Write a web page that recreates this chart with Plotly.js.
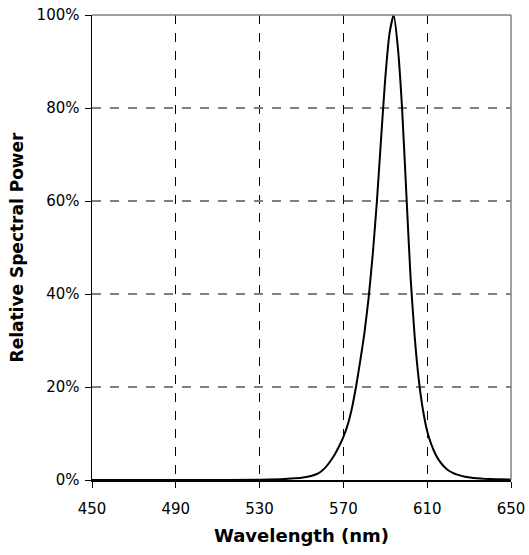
<!DOCTYPE html>
<html>
<head>
<meta charset="utf-8">
<script src="https://cdn.plot.ly/plotly-3.0.1.min.js"></script>
<style>html,body{margin:0;padding:0;background:#fff;}#chart{width:529px;height:555px;}</style>
</head>
<body>
<div id="chart"></div>
<script>
const wavelength = [450, 500, 530, 540, 545, 550, 555, 558, 561, 564, 566, 568, 570, 572, 574, 576, 578, 580, 582, 584, 586, 588, 590, 592, 594, 596, 598, 600, 602, 604, 606, 608, 610, 612, 614, 616, 618, 620, 622, 624, 628, 632, 640, 650];
const power = [0, 0, 0.05, 0.15, 0.3, 0.5, 0.9, 1.4, 2.5, 4.2, 5.6, 7.3, 9.3, 11.8, 15.3, 20, 25.5, 31.5, 39, 48.5, 60, 73.5, 86.5, 96, 100, 93, 80, 62, 44, 31, 21.5, 15, 10.5, 7.6, 5.5, 4.0, 2.9, 2.1, 1.6, 1.2, 0.7, 0.45, 0.2, 0.1];
const xTicks = [450, 490, 530, 570, 610, 650];
const yTicks = [0, 20, 40, 60, 80, 100];

const font = "'DejaVu Sans', Verdana, sans-serif";

Plotly.newPlot('chart', [{
  x: wavelength, y: power, type: 'scatter', mode: 'lines',
  line: {color: '#000', width: 2, shape: 'spline', smoothing: 0.5},
  hoverinfo: 'skip'
}], {
  width: 529, height: 555,
  margin: {l: 92, r: 18, t: 15, b: 75},
  paper_bgcolor: '#fff', plot_bgcolor: '#fff',
  showlegend: false,
  font: {family: font, size: 15, color: '#000'},
  xaxis: {
    range: [450, 650], tickvals: xTicks, ticktext: xTicks.map(String),
    showgrid: true, gridcolor: '#000', griddash: 'dash', gridwidth: 1,
    showline: true, linecolor: '#000', linewidth: 1.5,
    ticks: 'outside', ticklen: 6, tickcolor: '#000', zeroline: false,
    ticklabelstandoff: 8,
    tickfont: {family: font, size: 15},
    title: {text: '<b>Wavelength (nm)</b>', font: {family: font, size: 18}, standoff: 13}
  },
  yaxis: {
    range: [0, 100], tickvals: yTicks, ticktext: yTicks.map(v => v + '%'),
    showgrid: true, gridcolor: '#808080', griddash: 'dash', gridwidth: 1.5,
    showline: true, linecolor: '#000', linewidth: 1.5,
    ticks: 'outside', ticklen: 6, tickcolor: '#000', zeroline: false,
    ticklabelstandoff: 2,
    tickfont: {family: font, size: 15},
    title: {text: '<b>Relative Spectral Power</b>', font: {family: font, size: 17}, standoff: 8}
  },
  shapes: [
    {type: 'line', xref: 'paper', yref: 'paper', x0: 0, x1: 1, y0: 1, y1: 1, line: {color: '#808080', width: 1.5}},
    {type: 'line', xref: 'paper', yref: 'paper', x0: 1, x1: 1, y0: 0, y1: 1, line: {color: '#808080', width: 1.5}}
  ]
}, {displayModeBar: false, staticPlot: true});
</script>
</body>
</html>
